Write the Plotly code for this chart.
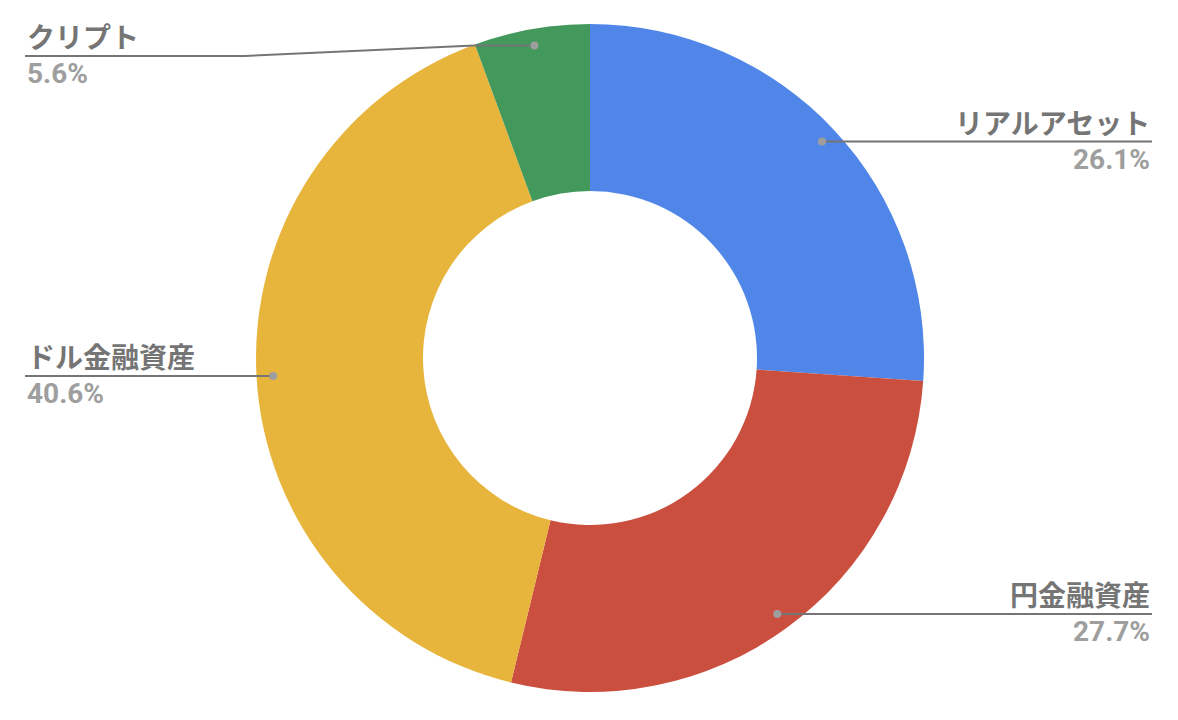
import math
import plotly.graph_objects as go

# Asset allocation (percent)
categories = ["リアルアセット", "円金融資産", "ドル金融資産", "クリプト"]
shares = [26.1, 27.7, 40.6, 5.6]
colors = ["#5086E8", "#CB4F3F", "#E8B53C", "#43985B"]

W, H = 1178, 720
CX, CY, R = 590, 358, 334          # donut centre and outer radius (px)
HOLE = 0.5
DOT_R = 0.95 * R                   # leader-line start inside each slice
LEFT_X, RIGHT_X = 25, 1152         # outer ends of label rules
TOP_LIMIT = 56                     # labels are kept below this line

fig = go.Figure()

fig.add_trace(go.Pie(
    labels=categories,
    values=shares,
    hole=HOLE,
    sort=False,
    direction="clockwise",
    rotation=0,
    marker=dict(colors=colors, line=dict(width=0)),
    textinfo="none",
    hoverinfo="label+percent",
    showlegend=False,
    domain=dict(x=[(CX - R) / W, (CX + R) / W],
                y=[(H - CY - R) / H, (H - CY + R) / H]),
))

total = sum(shares)
cum = 0.0
annotations = []
shapes = []
LINE = dict(color="#757575", width=2)
for name, val in zip(categories, shares):
    mid = (cum + val / 2) / total
    cum += val
    theta = 2 * math.pi * mid
    dx = DOT_R * math.sin(theta)
    dy = -DOT_R * math.cos(theta)
    px, py = CX + dx, CY + dy
    right = dx > 0
    ly = max(py, TOP_LIMIT)
    end_x = RIGHT_X if right else LEFT_X

    if abs(ly - py) < 1:
        pts = [(px, py), (end_x, py)]
    else:
        # bent leader: flat from the slice, slope, then flat under the label
        knee_a = px - 60 if not right else px + 60
        knee_b = LEFT_X + 220 if not right else RIGHT_X - 220
        pts = [(px, py), (knee_a, py), (knee_b, ly), (end_x, ly)]

    for (x0, y0), (x1, y1) in zip(pts[:-1], pts[1:]):
        shapes.append(dict(type="line", xref="x", yref="y",
                           x0=x0, y0=y0, x1=x1, y1=y1,
                           line=LINE, layer="above"))
    shapes.append(dict(type="circle", xref="x", yref="y",
                       x0=px - 4, x1=px + 4, y0=py - 4, y1=py + 4,
                       fillcolor="#9E9E9E", line=dict(width=0),
                       layer="above"))

    anchor = "right" if right else "left"
    annotations.append(dict(
        x=end_x, y=ly + 1, xref="x", yref="y",
        text=name, showarrow=False,
        xanchor=anchor, yanchor="bottom", align=anchor,
        font=dict(family="Roboto, Noto Sans CJK JP", size=28,
                  color="#757575", weight="bold"),
    ))
    annotations.append(dict(
        x=end_x, y=ly - 1, xref="x", yref="y",
        text=f"{val:.1f}%", showarrow=False,
        xanchor=anchor, yanchor="top", align=anchor,
        font=dict(family="Roboto, Noto Sans CJK JP", size=28,
                  color="#9E9E9E", weight="bold"),
    ))

fig.update_layout(
    width=W, height=H,
    margin=dict(l=0, r=0, t=0, b=0),
    paper_bgcolor="white",
    plot_bgcolor="rgba(0,0,0,0)",
    xaxis=dict(range=[0, W], visible=False, fixedrange=True),
    yaxis=dict(range=[H, 0], visible=False, fixedrange=True),
    annotations=annotations,
    shapes=shapes,
)

fig.write_html("out.html")
